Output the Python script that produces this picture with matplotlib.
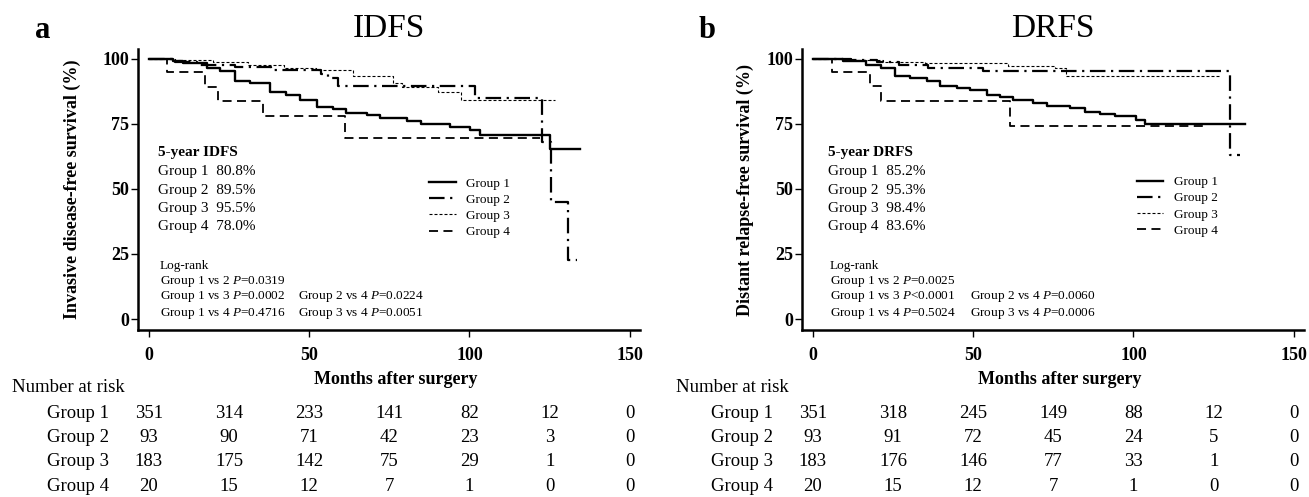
import matplotlib
matplotlib.use('Agg')
import matplotlib.pyplot as plt
from matplotlib.transforms import blended_transform_factory

plt.rcParams['font.family'] = 'Liberation Serif'
plt.rcParams['mathtext.fontset'] = 'custom'
plt.rcParams['mathtext.rm'] = 'Liberation Serif'
plt.rcParams['mathtext.it'] = 'Liberation Serif:italic'
plt.rcParams['mathtext.bf'] = 'Liberation Serif:bold'

# ---- data (months, survival %) ----
groups = ['Group 1', 'Group 2', 'Group 3', 'Group 4']
risk_months = [0, 25, 50, 75, 100, 125, 150]

idfs_t1 = [0, 7.6, 10.7, 18.0, 22.1, 26.8, 31.5, 37.7, 42.9, 47.1, 52.3, 57.5, 61.6, 67.9,
           72.0, 80.4, 85.0, 93.9, 100.1, 103.2, 125.0, 134.4]
idfs_s1 = [100, 99.0, 98.3, 96.4, 95.1, 91.3, 90.6, 87.0, 86.2, 84.2, 81.4, 80.8, 79.3, 78.5,
           77.2, 75.9, 75.0, 73.7, 72.7, 70.8, 65.3, 65.3]
idfs_t2 = [0, 8, 15, 27, 38, 53.8, 55.9, 59.0, 101.7, 122.6, 125.5, 130.8, 133.4]
idfs_s2 = [100, 98.6, 97.7, 96.8, 95.5, 94.2, 92.6, 89.4, 84.8, 67.8, 45.1, 22.6, 22.6]
idfs_t3 = [0, 8, 20, 31, 42, 52, 63.7, 76.2, 78.8, 90.2, 97.5, 126.6]
idfs_s3 = [100, 99.4, 98.6, 97.7, 96.4, 95.5, 93.3, 90.6, 89.1, 87.0, 84.0, 84.0]
idfs_t4 = [0, 5.7, 17.5, 21.6, 35.5, 61.1, 122.0]
idfs_s4 = [100, 95.0, 89.3, 83.6, 78.1, 69.5, 69.5]

drfs_t1 = [0, 9.4, 16.7, 21.4, 25.6, 30.2, 35.5, 39.6, 44.8, 49.0, 54.2, 58.3, 62.5, 68.7,
           72.9, 80.1, 84.8, 89.5, 94.2, 100.9, 103.5, 134.7]
drfs_s1 = [100, 99.0, 97.7, 96.4, 93.5, 92.6, 91.3, 89.6, 88.7, 87.8, 86.2, 85.2, 84.0, 83.0,
           81.9, 81.0, 79.7, 78.8, 77.8, 76.5, 75.0, 75.0]
drfs_t2 = [0, 12, 20, 27, 36, 53.1, 130.0, 133.1]
drfs_s2 = [100, 99.4, 98.6, 97.7, 96.4, 95.1, 63.1, 63.1]
drfs_t3 = [0, 10, 22, 35, 60.9, 75.5, 79.1, 126.9]
drfs_s3 = [100, 99.5, 98.9, 98.4, 97.3, 96.4, 93.2, 93.2]
drfs_t4 = [0, 6.0, 17.8, 21.4, 61.4, 122.2]
drfs_s4 = [100, 95.0, 89.4, 83.6, 74.2, 74.2]

idfs_risk1 = [351, 314, 233, 141, 82, 12, 0]
idfs_risk2 = [93, 90, 71, 42, 23, 3, 0]
idfs_risk3 = [183, 175, 142, 75, 29, 1, 0]
idfs_risk4 = [20, 15, 12, 7, 1, 0, 0]
drfs_risk1 = [351, 318, 245, 149, 88, 12, 0]
drfs_risk2 = [93, 91, 72, 45, 24, 5, 0]
drfs_risk3 = [183, 176, 146, 77, 33, 1, 0]
drfs_risk4 = [20, 15, 12, 7, 1, 0, 0]

idfs_5yr = ['80.8%', '89.5%', '95.5%', '78.0%']
drfs_5yr = ['85.2%', '95.3%', '98.4%', '83.6%']
idfs_p = ['0.0319', '=0.0002', '=0.4716', '=0.0224', '=0.0051']
drfs_p = ['0.0025', '<0.0001', '=0.5024', '=0.0060', '=0.0006']

styles = [
    dict(color='black', lw=1.7, ls='-'),
    dict(color='black', lw=1.6, ls=(0, (7, 2.5, 1, 2.5))),
    dict(color='black', lw=0.8, ls=(0, (2.7, 1.8))),
    dict(color='black', lw=1.3, ls=(0, (5, 3))),
]

W, H = 1309, 497
fig = plt.figure(figsize=(W / 100, H / 100), dpi=100)


def fy(px):
    return 1 - px / H


def panel(left_px, letter, title, ylabel, ylabel_x, curves, fiveyr, fiveyr_title,
          pvals, col2_x, text_x, risk, leg_anchor):
    ax = fig.add_axes([left_px / W, fy(330), 502 / W, (330 - 49) / H])
    for (t, s), st in zip(curves, styles):
        ax.step(t, s, where='post', label=None, **st)
    ax.set_xlim(-3.4, 153.2)
    ax.set_ylim(-4.2, 103.7)
    for side in ['top', 'right']:
        ax.spines[side].set_visible(False)
    for side in ['left', 'bottom']:
        ax.spines[side].set_linewidth(1.8)
    ax.set_xticks([0, 50, 100, 150])
    ax.set_yticks([0, 25, 50, 75, 100])
    ax.tick_params(axis='x', length=5, width=1, pad=7, labelsize=13)
    ax.tick_params(axis='y', length=5, width=1, pad=1.5, labelsize=13)
    for lab in ax.get_xticklabels() + ax.get_yticklabels():
        lab.set_fontweight('bold')
    ax.set_ylabel(ylabel, fontsize=13, fontweight='bold')
    ax.yaxis.set_label_coords(ylabel_x, 0.5)

    # legend
    handles = [plt.Line2D([], [], **st) for st in styles]
    ax.legend(handles, groups, loc='center left', bbox_to_anchor=leg_anchor,
              frameon=False, fontsize=9.5, handlelength=2.0, handletextpad=0.8,
              labelspacing=0.3, borderpad=0, borderaxespad=0)

    # 5-year text
    ax.text(text_x, 63.8, fiveyr_title, fontsize=11, fontweight='bold', va='center')
    for i, (g, v) in enumerate(zip(groups, fiveyr)):
        ax.text(text_x, 56.5 - i * 7.0, f'{g}  {v}', fontsize=11, va='center')

    # log-rank text
    lx = text_x + 0.6
    ax.text(lx, 20.4, 'Log-rank', fontsize=9.5, va='center')
    ax.text(lx, 14.6, 'Group 1 vs 2 $P$=' + pvals[0], fontsize=9.5, va='center')
    ax.text(lx, 8.8, 'Group 1 vs 3 $P$' + pvals[1], fontsize=9.5, va='center')
    ax.text(lx, 2.3, 'Group 1 vs 4 $P$' + pvals[2], fontsize=9.5, va='center')
    ax.text(col2_x, 8.8, 'Group 2 vs 4 $P$' + pvals[3], fontsize=9.5, va='center')
    ax.text(col2_x, 2.3, 'Group 3 vs 4 $P$' + pvals[4], fontsize=9.5, va='center')

    # titles
    cx = (left_px + 251) / W
    fig.text(cx, fy(37), title, fontsize=24, ha='center', va='baseline')
    fig.text((left_px - 95) / W, fy(38), letter, fontsize=22, fontweight='bold',
             ha='center', va='baseline')

    # x label and number at risk table
    tr = blended_transform_factory(ax.transData, fig.transFigure)
    fig.text(77, fy(380), 'Months after surgery', transform=tr, fontsize=13,
             fontweight='bold', ha='center', va='center')
    fig.text((left_px - 126) / W, fy(388), 'Number at risk', fontsize=13.5, va='center')
    row_y = [413, 437.5, 462, 486.5]
    for g, counts, yy in zip(groups, risk, row_y):
        fig.text((left_px - 91) / W, fy(yy), g, fontsize=13.5, va='center')
        for m, c in zip(risk_months, counts):
            fig.text(m, fy(yy), str(c), transform=tr, fontsize=13.5,
                     ha='center', va='center')
    return ax


panel(138, 'a', 'IDFS', 'Invasive disease-free survival (%)', -0.113,
      [(idfs_t1, idfs_s1), (idfs_t2, idfs_s2), (idfs_t3, idfs_s3), (idfs_t4, idfs_s4)],
      idfs_5yr, '5-year IDFS', idfs_p, 46.5, 2.8,
      [idfs_risk1, idfs_risk2, idfs_risk3, idfs_risk4], (0.58, 0.435))

panel(802, 'b', 'DRFS', 'Distant relapse-free survival (%)', -0.096,
      [(drfs_t1, drfs_s1), (drfs_t2, drfs_s2), (drfs_t3, drfs_s3), (drfs_t4, drfs_s4)],
      drfs_5yr, '5-year DRFS', drfs_p, 49.0, 4.7,
      [drfs_risk1, drfs_risk2, drfs_risk3, drfs_risk4], (0.667, 0.44))

fig.savefig('out.png', dpi=100)
